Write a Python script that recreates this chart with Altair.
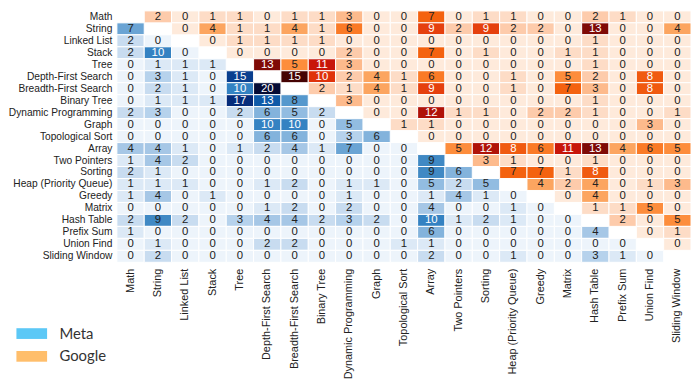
import altair as alt
import pandas as pd

topics = ["Math", "String", "Linked List", "Stack", "Tree", "Depth-First Search",
          "Breadth-First Search", "Binary Tree", "Dynamic Programming", "Graph",
          "Topological Sort", "Array", "Two Pointers", "Sorting", "Heap (Priority Queue)",
          "Greedy", "Matrix", "Hash Table", "Prefix Sum", "Union Find", "Sliding Window"]

# each row: below diagonal = Meta, above diagonal = Google, diagonal = None
r_math      = [None, 2, 0, 1, 1, 0, 1, 1, 3, 0, 0, 7, 0, 1, 1, 0, 0, 2, 1, 0, 0]
r_string    = [7, None, 0, 4, 1, 1, 4, 1, 6, 0, 0, 9, 2, 9, 2, 2, 0, 13, 0, 0, 4]
r_linked    = [2, 0, None, 0, 1, 1, 1, 1, 0, 0, 0, 0, 0, 0, 0, 0, 0, 1, 0, 0, 0]
r_stack     = [2, 10, 0, None, 0, 0, 0, 0, 2, 0, 0, 7, 0, 1, 0, 0, 1, 1, 0, 0, 0]
r_tree      = [0, 1, 1, 1, None, 13, 5, 11, 3, 0, 0, 0, 0, 0, 0, 0, 0, 1, 0, 0, 0]
r_dfs       = [0, 3, 1, 0, 15, None, 15, 10, 2, 4, 1, 6, 0, 0, 1, 0, 5, 2, 0, 8, 0]
r_bfs       = [0, 2, 1, 0, 10, 20, None, 2, 1, 4, 1, 9, 0, 0, 1, 0, 7, 3, 0, 8, 0]
r_bintree   = [0, 1, 1, 1, 17, 13, 8, None, 3, 0, 0, 0, 0, 0, 0, 0, 0, 1, 0, 0, 0]
r_dp        = [2, 3, 0, 0, 2, 6, 5, 2, None, 0, 0, 12, 1, 1, 0, 2, 2, 1, 0, 0, 1]
r_graph     = [0, 0, 0, 0, 0, 10, 10, 0, 5, None, 1, 1, 0, 0, 0, 0, 0, 0, 0, 3, 0]
r_topo      = [0, 0, 0, 0, 0, 6, 6, 0, 3, 6, None, 0, 0, 0, 0, 0, 0, 0, 0, 0, 0]
r_array     = [4, 4, 1, 0, 1, 2, 4, 1, 7, 0, 0, None, 5, 12, 8, 6, 11, 13, 4, 6, 5]
r_twoptr    = [1, 4, 2, 0, 0, 0, 0, 0, 0, 0, 0, 9, None, 3, 1, 0, 0, 1, 0, 0, 0]
r_sorting   = [2, 1, 0, 0, 0, 0, 0, 0, 0, 0, 0, 9, 6, None, 7, 7, 1, 8, 0, 0, 0]
r_heap      = [1, 1, 1, 0, 0, 1, 2, 0, 1, 1, 0, 5, 2, 5, None, 4, 2, 4, 0, 1, 3]
r_greedy    = [1, 4, 0, 1, 0, 0, 0, 0, 1, 0, 0, 1, 4, 1, 0, None, 0, 4, 0, 0, 0]
r_matrix    = [0, 0, 0, 0, 0, 1, 2, 0, 2, 0, 0, 4, 0, 0, 1, 0, None, 1, 1, 5, 0]
r_hash      = [2, 9, 2, 0, 3, 4, 4, 2, 3, 2, 0, 10, 1, 2, 1, 0, 0, None, 2, 0, 5]
r_prefix    = [1, 0, 0, 0, 0, 0, 0, 0, 0, 0, 0, 6, 0, 0, 0, 0, 0, 4, None, 0, 1]
r_union     = [0, 1, 0, 0, 0, 2, 2, 0, 0, 0, 1, 1, 0, 0, 0, 0, 0, 0, 0, None, 0]
r_sliding   = [0, 2, 0, 0, 0, 0, 0, 0, 0, 0, 0, 2, 0, 0, 1, 0, 0, 3, 1, 0, None]

rows = [r_math, r_string, r_linked, r_stack, r_tree, r_dfs, r_bfs, r_bintree, r_dp,
        r_graph, r_topo, r_array, r_twoptr, r_sorting, r_heap, r_greedy, r_matrix,
        r_hash, r_prefix, r_union, r_sliding]

companies = ["Meta", "Google"]

recs = []
for i, rname in enumerate(topics):
    for j, cname in enumerate(topics):
        v = rows[i][j]
        if v is None:
            continue
        comp = "Meta" if j < i else "Google"
        if comp == "Meta":
            tc = "white" if v >= 10 else "#222222"
        else:
            tc = "white" if v >= 8 else "#222222"
        recs.append({"row": rname, "col": cname, "value": v, "company": comp, "tc": tc})
df = pd.DataFrame(recs)

meta_dom = [0, 1, 2, 3, 4, 5, 6, 7, 8, 9, 10, 13, 15, 17, 20]
meta_rng = ["#edf4fb", "#dce9f6", "#c8dcf0", "#b6d2ec", "#a6c7e6", "#92bce1", "#83b3dc",
            "#6aa4d4", "#5598cd", "#4089c4", "#3482c2", "#0e5aa8", "#0a3f8f", "#062c7a", "#050c35"]
goog_dom = [0, 1, 2, 3, 4, 5, 6, 7, 8, 9, 10, 11, 12, 13, 15]
goog_rng = ["#feeadb", "#fddcc6", "#fdcbab", "#fdba8c", "#fca560", "#fd8d3c", "#fa7a26",
            "#f4620f", "#f05a10", "#e5400e", "#e0320a", "#c8160a", "#b01208", "#7f0a06", "#450303"]

x_enc = alt.X("col:N", sort=topics, title=None,
              axis=alt.Axis(labelAngle=-90, labelAlign="right", labelBaseline="middle",
                            domain=False, ticks=False, labelPadding=6, labelFontSize=11,
                            labelFont="Liberation Sans", labelColor="#222222"))
y_enc = alt.Y("row:N", sort=topics, title=None,
              axis=alt.Axis(domain=False, ticks=False, labelPadding=5, labelFontSize=10.3,
                            labelFont="Liberation Sans", labelColor="#222222"))

base = alt.Chart(df).encode(x=x_enc, y=y_enc)

meta_rect = base.transform_filter(alt.datum.company == "Meta").mark_rect(
    stroke="white", strokeWidth=1).encode(
    color=alt.Color("value:Q", scale=alt.Scale(domain=meta_dom, range=meta_rng), legend=None))

goog_rect = base.transform_filter(alt.datum.company == "Google").mark_rect(
    stroke="white", strokeWidth=1).encode(
    color=alt.Color("value:Q", scale=alt.Scale(domain=goog_dom, range=goog_rng), legend=None))

labels = base.mark_text(font="Liberation Sans", fontSize=11.5).encode(
    text="value:Q", color=alt.Color("tc:N", scale=None))

legend_layer = base.mark_point(filled=True, opacity=0).encode(
    color=alt.Color("company:N",
                    scale=alt.Scale(domain=companies, range=["#5cc8f6", "#ffbe6b"]),
                    legend=alt.Legend(title=None, orient="none", legendX=-94, legendY=318,
                                      symbolType="M-2,-0.7L2,-0.7L2,0.7L-2,0.7Z",
                                      symbolSize=240, symbolOpacity=1, symbolStrokeWidth=0,
                                      labelFont="Comic Sans MS, Lato", labelFontSize=15,
                                      labelColor="#333333", labelOffset=20, rowPadding=7)))

chart = alt.layer(meta_rect, goog_rect, labels, legend_layer).resolve_scale(
    color="independent").properties(
    width=580, height=254, padding={"left": 0, "top": 0, "right": 0, "bottom": 0}
).configure_view(stroke=None)

chart.save("out.html", embed_options={"renderer": "svg", "actions": False})
